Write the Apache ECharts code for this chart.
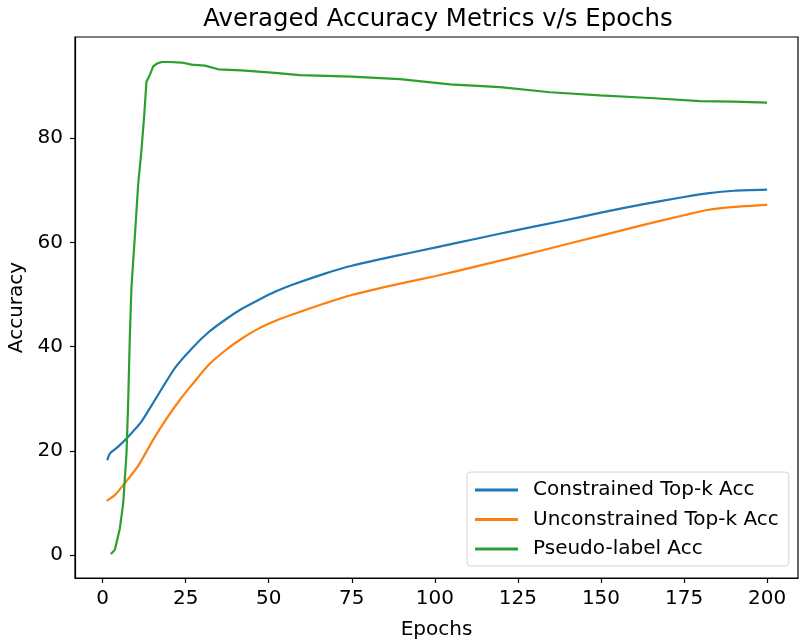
<!DOCTYPE html>
<html>
<head>
<meta charset="utf-8">
<script src="https://cdn.jsdelivr.net/npm/echarts@6/dist/echarts.min.js"></script>
<style>html,body{margin:0;padding:0;background:#fff;}#chart{width:799px;height:639px;}</style>
</head>
<body>
<div id="chart"></div>
<script>
const xTicks = [0, 25, 50, 75, 100, 125, 150, 175, 200];
const yTicks = [0, 20, 40, 60, 80];

const blueX = [1.4, 2.2, 4.7, 7.7, 11.7, 15.7, 21.8, 26.8, 31.8, 36.8, 41.8, 46.8, 51.9, 56.9, 66.9, 75, 87.5, 100, 112.5, 125, 137.5, 150, 162.5, 175, 182, 190, 200];
const blueY = [18.2, 19.5, 20.8, 22.7, 25.6, 29.7, 35.9, 39.6, 42.7, 45.1, 47.2, 48.9, 50.5, 51.8, 54.0, 55.5, 57.3, 59.0, 60.7, 62.4, 64.0, 65.7, 67.3, 68.7, 69.4, 69.9, 70.1];

const orangeX = [1.2, 3.7, 6.7, 10.7, 15.2, 19.5, 23.3, 26.8, 31.8, 36.8, 41.8, 46.8, 51.9, 56.9, 66.9, 75, 87.5, 100, 112.5, 125, 137.5, 150, 162.5, 175, 182, 190, 200];
const orangeY = [10.4, 11.5, 13.8, 17.1, 22.1, 26.4, 29.8, 32.6, 36.4, 39.2, 41.5, 43.4, 44.9, 46.1, 48.3, 49.9, 51.8, 53.5, 55.4, 57.3, 59.3, 61.3, 63.3, 65.2, 66.2, 66.8, 67.2];

const greenX = [2.5, 3.7, 5.2, 6.2, 7.2, 7.7, 8.2, 8.7, 9.7, 10.7, 11.7, 12.5, 13.2, 14.2, 15.2, 16.3, 17.8, 20, 23.8, 26.8, 30.8, 34.8, 41.8, 51.9, 59.4, 75, 89.5, 104.6, 119.6, 134.7, 149.7, 164.8, 179.8, 190, 200];
const greenY = [0.2, 1.0, 5.1, 9.9, 19.5, 29.1, 41.9, 51.5, 61.0, 71.0, 77.7, 84.1, 90.8, 92.1, 93.7, 94.3, 94.6, 94.6, 94.5, 94.1, 93.9, 93.2, 93.0, 92.5, 92.1, 91.8, 91.3, 90.3, 89.8, 88.8, 88.2, 87.7, 87.1, 87.0, 86.8];

const names = ['Constrained Top-k Acc', 'Unconstrained Top-k Acc', 'Pseudo-label Acc'];
const colors = ['#1f77b4', '#ff7f0e', '#2ca02c'];

function pairs(xs, ys) { return xs.map((x, i) => [x, ys[i]]); }

const FONT = 'DejaVu Sans';
const FS = 20;
const chart = echarts.init(document.getElementById('chart'));
chart.setOption({
  animation: false,
  backgroundColor: '#ffffff',
  textStyle: { fontFamily: FONT },
  title: {
    text: 'Averaged Accuracy Metrics v/s Epochs',
    left: 433, top: 3, textAlign: 'center',
    textStyle: { fontFamily: FONT, fontSize: 24.4, fontWeight: 'normal', color: '#000' }
  },
  grid: {
    left: 75, right: 1, top: 37, bottom: 61,
    outerBoundsMode: 'none', containLabel: false,
    show: true, borderColor: '#000', borderWidth: 1.2, backgroundColor: 'transparent'
  },
  legend: {
    left: 467, top: 472, orient: 'vertical',
    icon: 'rect', itemWidth: 43, itemHeight: 3, itemGap: 9.5,
    padding: [8, 10, 7, 8],
    borderColor: '#d4d4d4', borderWidth: 1, borderRadius: 4,
    textStyle: { fontFamily: FONT, fontSize: FS, color: '#000', padding: [0, 0, 0, 10] },
    data: names
  },
  xAxis: {
    type: 'value', min: -8.3, max: 209.3,
    name: 'Epochs', nameLocation: 'middle', nameGap: 42,
    nameTextStyle: { fontFamily: FONT, fontSize: FS, color: '#000' },
    axisLine: { show: true, onZero: false, lineStyle: { color: '#000', width: 1.2 } },
    axisTick: { show: true, inside: false, length: 5, customValues: xTicks, lineStyle: { color: '#000', width: 1.2 } },
    axisLabel: { fontFamily: FONT, fontSize: FS, color: '#000', margin: 11, customValues: xTicks },
    splitLine: { show: false }
  },
  yAxis: {
    type: 'value', min: -4.4, max: 99.4,
    name: 'Accuracy', nameLocation: 'middle', nameGap: 48, nameRotate: 90,
    nameTextStyle: { fontFamily: FONT, fontSize: FS, color: '#000' },
    axisLine: { show: true, onZero: false, lineStyle: { color: '#000', width: 1.2 } },
    axisTick: { show: true, inside: false, length: 5, customValues: yTicks, lineStyle: { color: '#000', width: 1.2 } },
    axisLabel: { fontFamily: FONT, fontSize: FS, color: '#000', margin: 12, customValues: yTicks },
    splitLine: { show: false }
  },
  series: [
    { name: names[0], type: 'line', data: pairs(blueX, blueY), showSymbol: false, symbol: 'none', smooth: 0.2, color: colors[0], lineStyle: { width: 2.2 } },
    { name: names[1], type: 'line', data: pairs(orangeX, orangeY), showSymbol: false, symbol: 'none', smooth: 0.2, color: colors[1], lineStyle: { width: 2.2 } },
    { name: names[2], type: 'line', data: pairs(greenX, greenY), showSymbol: false, symbol: 'none', color: colors[2], lineStyle: { width: 2.2 } }
  ]
});
</script>
</body>
</html>
